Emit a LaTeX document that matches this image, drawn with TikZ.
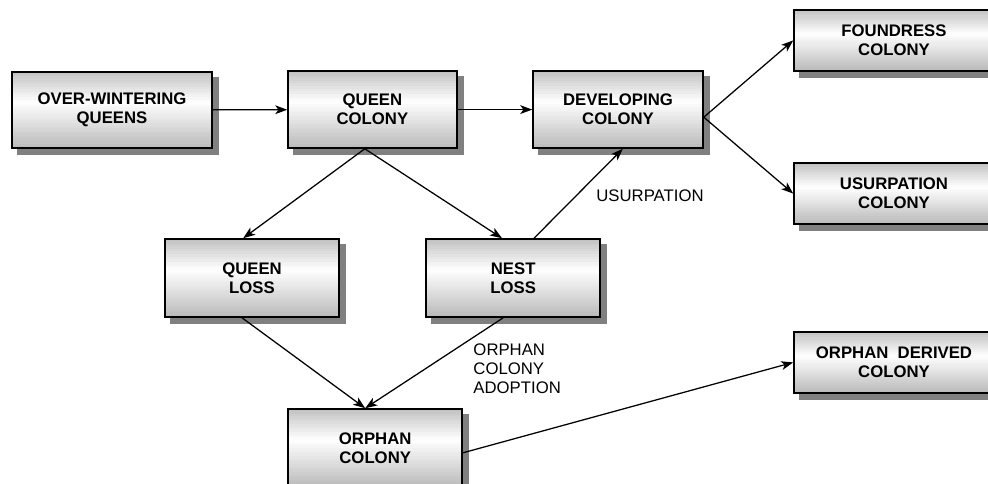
\documentclass[tikz,border=0pt]{standalone}
\usepackage{fontspec}
\setmainfont{Liberation Sans}
\usepackage{tikz}
\usetikzlibrary{positioning,arrows.meta,backgrounds,calc}

\begin{document}
\begin{tikzpicture}[
    >={Stealth[length=0.3cm,width=0.22cm,inset=0.08cm]},
    stage/.style={rectangle, draw, line width=1.1pt, inner sep=0pt,
        minimum width=4.35cm, minimum height=1.95cm, align=center,
        font=\fontsize{11.9}{13.5}\selectfont\bfseries},
    note/.style={inner sep=0pt, align=left, font=\fontsize{11.9}{13.5}\selectfont},
    link/.style={->, line width=0.9pt}
]
\useasboundingbox (0,0) rectangle (24.7,-12.1);
\clip (0,0) rectangle (24.7,-12.1);

% === Top row ===
\node[stage, minimum width=5cm, minimum height=1.9cm] (ow) at (2.8,-2.75) {OVER-WINTERING\\QUEENS};
\node[stage, minimum width=4.22cm, minimum height=1.92cm] (qc) at (9.31,-2.74) {QUEEN\\COLONY};
\node[stage, minimum width=4.25cm, minimum height=1.92cm] (dev) at (15.45,-2.74) {DEVELOPING\\COLONY};

% === Outcomes (right) ===
\node[stage, minimum width=5cm, minimum height=1.52cm] (fnd) at (22.35,-1.01) {FOUNDRESS\\COLONY};
\node[stage, minimum width=5cm, minimum height=1.52cm] (usc) at (22.35,-4.84) {USURPATION\\COLONY};
\node[stage, minimum width=5cm, minimum height=1.52cm] (odc) at (22.35,-9.06) {ORPHAN~ DERIVED\\COLONY};

% === Losses ===
\node[stage] (ql) at (6.3,-6.95) {QUEEN\\LOSS};
\node[stage] (nl) at (12.83,-6.95) {NEST\\LOSS};
\node[stage] (oc) at (9.38,-11.2) {ORPHAN\\COLONY};

% Shadows and gradient fill
\begin{scope}[on background layer]
\foreach \n in {ow,qc,dev,fnd,usc,odc,ql,nl,oc} {
    \fill[black!50] ([shift={(0.15,-0.15)}]\n.south west) rectangle ([shift={(0.15,-0.15)}]\n.north east);
    \foreach \i in {0,...,29} {
        \pgfmathsetmacro{\ta}{\i/30}
        \pgfmathsetmacro{\tb}{min(1,(\i+1.4)/30)}
        \pgfmathsetmacro{\tm}{(\i+0.5)/30}
        \pgfmathsetmacro{\pct}{\tm<0.4 ? 50*(1-\tm/0.4) : 55*(\tm-0.4)/0.6}
        \fill[gray!\pct!white] ($(\n.north west)!\ta!(\n.south west)$) rectangle ($(\n.north east)!\tb!(\n.south east)$);
    }
}
\end{scope}

% Connectors
\draw[link] (ow) -- (qc);
\draw[link] (qc) -- (dev);
\draw[link] ([yshift=-0.19cm]dev.east) -- (fnd.west);
\draw[link] ([yshift=-0.19cm]dev.east) -- (usc.west);
\draw[link] ([xshift=-0.19cm]qc.south) -- ([xshift=-0.22cm]ql.north);
\draw[link] ([xshift=-0.19cm]qc.south) -- ([xshift=-0.28cm]nl.north);
\draw[link] ([xshift=0.52cm]nl.north) -- ([xshift=0.12cm]dev.south);
\draw[link] ([xshift=-0.25cm]ql.south) -- ([xshift=-0.25cm]oc.north);
\draw[link] ([xshift=-0.25cm]nl.south) -- ([xshift=-0.25cm]oc.north);
\draw[link] ([yshift=-0.12cm]oc.east) -- (odc.west);

% Labels
\node[note] (usurp) at (16.25,-4.9) {USURPATION};
\node[note, anchor=north west] (adopt) at (11.83,-8.6) {ORPHAN\\COLONY\\ADOPTION};
\end{tikzpicture}
\end{document}
